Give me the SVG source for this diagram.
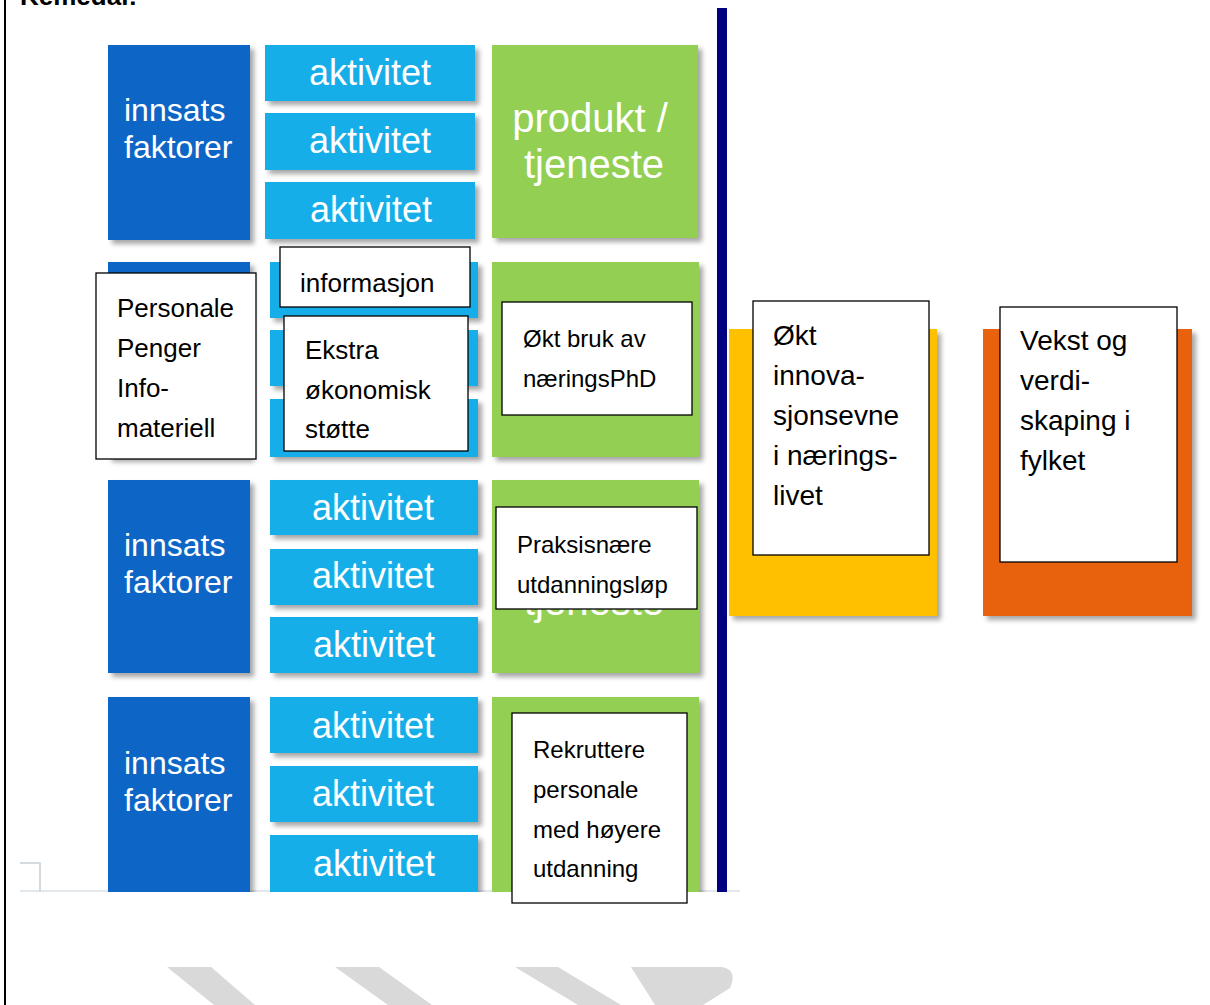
<svg xmlns="http://www.w3.org/2000/svg" width="1210" height="1005" viewBox="0 0 1210 1005">
<defs>
<filter id="sh" x="-10%" y="-10%" width="130%" height="130%"><feDropShadow dx="4" dy="4" stdDeviation="2.5" flood-color="#000" flood-opacity="0.35"/></filter>
<clipPath id="img"><rect x="20" y="30" width="720" height="862"/></clipPath>
</defs>
<style>
text{font-family:"Liberation Sans",Arial,sans-serif}
.db{fill:#0866C6;filter:url(#sh)}
.lb{fill:#14AEE9;filter:url(#sh)}
.gr{fill:#92CF52;filter:url(#sh)}
.in{fill:#fff;font-size:32px}
.ak{fill:#fff;font-size:36px;text-anchor:middle}
.pr{fill:#fff;font-size:40px;text-anchor:middle}
.box{fill:#fff;stroke:#000;stroke-width:1.3}
.t24{font-size:24px;fill:#000}
.t26{font-size:26px;fill:#000}
.t28{font-size:28px;fill:#000}
.wm{fill:#D9D9D9}
</style>
<rect x="0" y="0" width="1210" height="1005" fill="#fff"/>
<text x="20" y="5" font-weight="bold" font-size="26" fill="#000">Kemedal:</text>
<line x1="5" y1="0" x2="5" y2="1005" stroke="#000" stroke-width="2"/>

<g id="watermark">
<polygon class="wm" points="167,967 211,967 255,1005 214,1005"/>
<polygon class="wm" points="335,967 379,967 432,1005 388,1005"/>
<polygon class="wm" points="515,967 558,967 621,1005 578,1005"/>
<path class="wm" d="M631,967 L722,967 Q738,970 730,988 L703,1005 L655,1005 Z"/>
</g>

<g id="image" clip-path="url(#img)">
<line x1="20" y1="891" x2="740" y2="891" stroke="#E3E8EC" stroke-width="2"/>
<polyline points="20,863 40,863 40,892" fill="none" stroke="#D3DBE0" stroke-width="2"/>

<g id="row1">
<g id="r1-input"><rect class="db" x="108" y="45" width="142" height="195"/><text class="in" x="124" y="121">innsats</text><text class="in" x="124" y="158">faktorer</text></g>
<g id="r1-act1"><rect class="lb" x="265" y="45" width="210" height="56"/><text class="ak" x="370" y="85">aktivitet</text></g>
<g id="r1-act2"><rect class="lb" x="265" y="113" width="210" height="57"/><text class="ak" x="370" y="153">aktivitet</text></g>
<g id="r1-act3"><rect class="lb" x="265" y="182" width="210" height="57"/><text class="ak" x="371" y="222">aktivitet</text></g>
<g id="r1-prod"><rect class="gr" x="492" y="45" width="206" height="193"/><text class="pr" x="590" y="132">produkt /</text><text class="pr" x="594" y="178">tjeneste</text></g>
</g>

<g id="row2">
<rect class="db" x="108" y="262" width="142" height="196"/>
<rect class="lb" x="270" y="262" width="208" height="56"/>
<rect class="lb" x="270" y="330" width="208" height="56"/>
<rect class="lb" x="270" y="399" width="208" height="58"/>
<rect class="gr" x="492" y="262" width="207" height="195"/>
</g>

<g id="row3">
<g id="r3-input"><rect class="db" x="108" y="480" width="142" height="193"/><text class="in" x="124" y="556">innsats</text><text class="in" x="124" y="593">faktorer</text></g>
<g id="r3-act1"><rect class="lb" x="270" y="480" width="208" height="55"/><text class="ak" x="373" y="520">aktivitet</text></g>
<g id="r3-act2"><rect class="lb" x="270" y="549" width="208" height="56"/><text class="ak" x="373" y="588">aktivitet</text></g>
<g id="r3-act3"><rect class="lb" x="270" y="617" width="208" height="56"/><text class="ak" x="374" y="657">aktivitet</text></g>
<g id="r3-prod"><rect class="gr" x="492" y="480" width="207" height="193"/><text class="pr" x="594" y="615">tjeneste</text></g>
</g>

<g id="row4">
<g id="r4-input"><rect class="db" x="108" y="697" width="142" height="200"/><text class="in" x="124" y="774">innsats</text><text class="in" x="124" y="811">faktorer</text></g>
<g id="r4-act1"><rect class="lb" x="270" y="697" width="208" height="56"/><text class="ak" x="373" y="738">aktivitet</text></g>
<g id="r4-act2"><rect class="lb" x="270" y="766" width="208" height="56"/><text class="ak" x="373" y="806">aktivitet</text></g>
<g id="r4-act3"><rect class="lb" x="270" y="835" width="208" height="62"/><text class="ak" x="374" y="876">aktivitet</text></g>
<rect class="gr" x="492" y="697" width="207" height="200"/>
</g>
</g>

<rect id="divider" x="717" y="8" width="10" height="884" fill="#000080"/>

<g id="outcome1"><rect x="729" y="329" width="208" height="287" fill="#FFC000" filter="url(#sh)"/></g>
<g id="outcome2"><rect x="983" y="329" width="209" height="287" fill="#E8620A" filter="url(#sh)"/></g>

<g id="connectors"></g>

<g id="n-personale"><rect class="box" x="96" y="273" width="160" height="186"/>
<text class="t26" x="117" y="317">Personale</text><text class="t26" x="117" y="357">Penger</text><text class="t26" x="117" y="397">Info-</text><text class="t26" x="117" y="437">materiell</text></g>

<g id="n-informasjon"><rect class="box" x="280" y="247" width="190" height="60"/>
<text class="t26" x="300" y="292">informasjon</text></g>

<g id="n-ekstra"><rect class="box" x="284" y="316" width="184" height="135"/>
<text class="t26" x="305" y="359">Ekstra</text><text class="t26" x="305" y="399">økonomisk</text><text class="t26" x="305" y="438">støtte</text></g>

<g id="n-phd"><rect class="box" x="502" y="302" width="190" height="113"/>
<text class="t24" x="523" y="347">Økt bruk av</text><text class="t24" x="523" y="387">næringsPhD</text></g>

<g id="n-praksis"><rect class="box" x="496" y="507" width="201" height="102"/>
<text class="t24" x="517" y="553">Praksisnære</text><text class="t24" x="517" y="593">utdanningsløp</text></g>

<g id="n-rekruttere"><rect class="box" x="512" y="713" width="175" height="190"/>
<text class="t24" x="533" y="758">Rekruttere</text><text class="t24" x="533" y="798">personale</text><text class="t24" x="533" y="838">med høyere</text><text class="t24" x="533" y="877">utdanning</text></g>

<g id="n-innovasjon"><rect class="box" x="753" y="301" width="176" height="254"/>
<text class="t28" x="773" y="345">Økt</text><text class="t28" x="773" y="385">innova-</text><text class="t28" x="773" y="425">sjonsevne</text><text class="t28" x="773" y="465">i nærings-</text><text class="t28" x="773" y="505">livet</text></g>

<g id="n-vekst"><rect class="box" x="1000" y="307" width="177" height="255"/>
<text class="t28" x="1020" y="350">Vekst og</text><text class="t28" x="1020" y="390">verdi-</text><text class="t28" x="1020" y="430">skaping i</text><text class="t28" x="1020" y="470">fylket</text></g>
</svg>
